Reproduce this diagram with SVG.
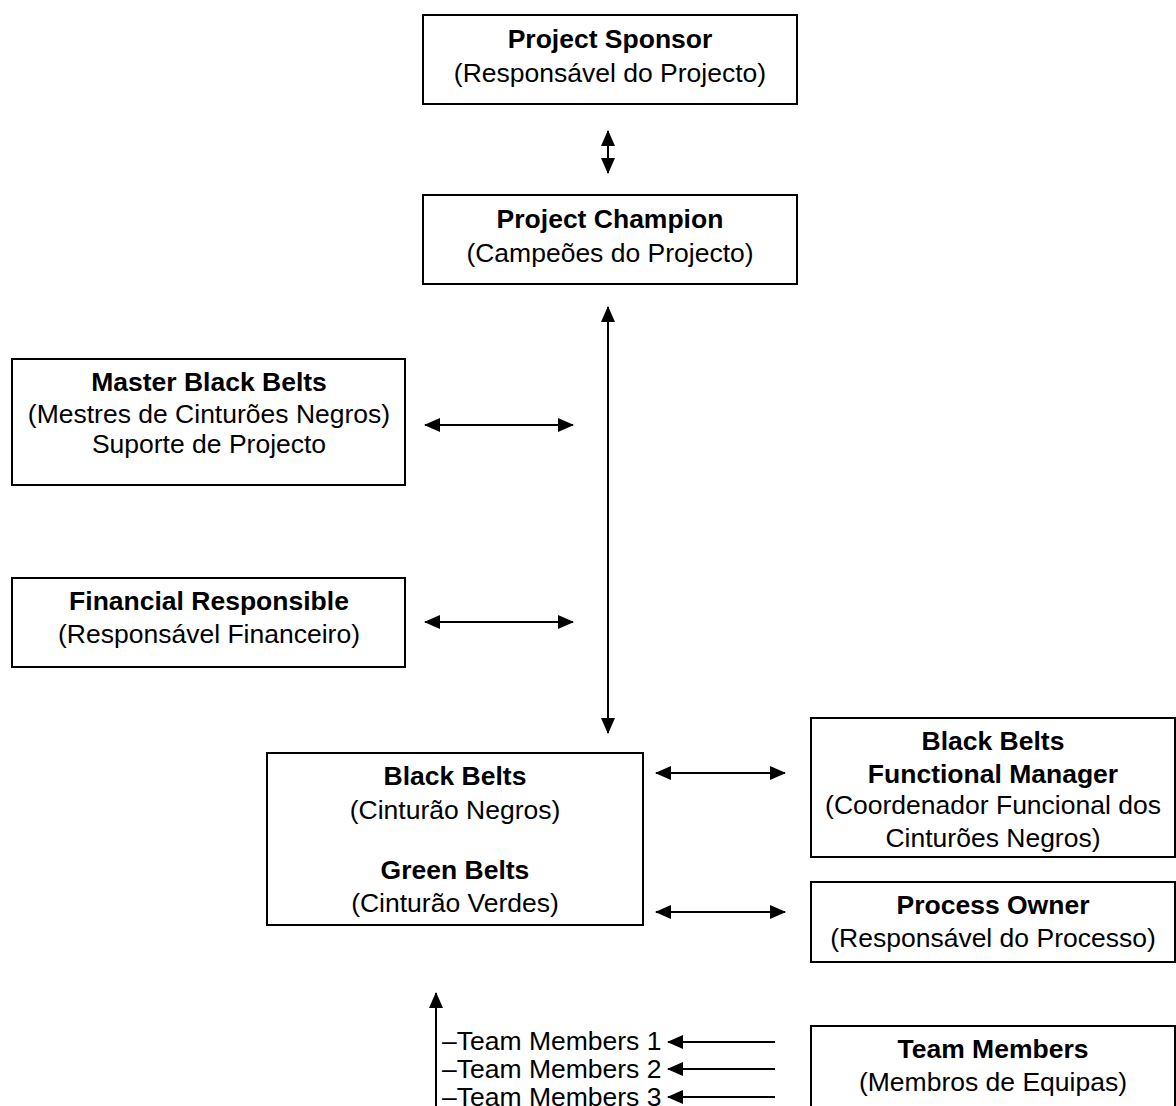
<svg xmlns="http://www.w3.org/2000/svg" width="1176" height="1106" viewBox="0 0 1176 1106">
  <style>
    .box { fill: #ffffff; stroke: #000000; stroke-width: 2; }
    .t { font-family: "Liberation Sans", Arial, sans-serif; font-size: 26.5px; fill: #000000; text-anchor: middle; }
    .b { font-weight: bold; }
    .list { text-anchor: start; }
    .link { stroke: #000000; stroke-width: 2; fill: none; }
  </style>
  <defs>
    <marker id="head" markerUnits="userSpaceOnUse" markerWidth="16" markerHeight="14" refX="15" refY="7" orient="auto-start-reverse">
      <path d="M0,0 L16,7 L0,14 Z" fill="#000000"/>
    </marker>
  </defs>
  <rect width="1176" height="1106" fill="#ffffff"/>

  <g id="connectors">
    <line class="link" x1="608" y1="131" x2="608" y2="173" marker-start="url(#head)" marker-end="url(#head)"/>
    <line class="link" x1="608" y1="307" x2="608" y2="733" marker-start="url(#head)" marker-end="url(#head)"/>
    <line class="link" x1="425" y1="425" x2="573" y2="425" marker-start="url(#head)" marker-end="url(#head)"/>
    <line class="link" x1="425" y1="622" x2="573" y2="622" marker-start="url(#head)" marker-end="url(#head)"/>
    <line class="link" x1="656" y1="773" x2="785" y2="773" marker-start="url(#head)" marker-end="url(#head)"/>
    <line class="link" x1="656" y1="912" x2="785" y2="912" marker-start="url(#head)" marker-end="url(#head)"/>
    <line class="link" x1="436" y1="1106" x2="436" y2="993" marker-end="url(#head)"/>
    <line class="link" x1="775" y1="1042" x2="668" y2="1042" marker-end="url(#head)"/>
    <line class="link" x1="775" y1="1069" x2="668" y2="1069" marker-end="url(#head)"/>
    <line class="link" x1="775" y1="1097" x2="668" y2="1097" marker-end="url(#head)"/>
  </g>

  <g id="project-sponsor">
    <rect class="box" x="423" y="15" width="374" height="89"/>
    <text class="t b" x="610" y="48">Project Sponsor</text>
    <text class="t" x="610" y="82">(Responsável do Projecto)</text>
  </g>

  <g id="project-champion">
    <rect class="box" x="423" y="195" width="374" height="89"/>
    <text class="t b" x="610" y="228">Project Champion</text>
    <text class="t" x="610" y="262">(Campeões do Projecto)</text>
  </g>

  <g id="master-black-belts">
    <rect class="box" x="12" y="359" width="393" height="126"/>
    <text class="t b" x="209" y="391">Master Black Belts</text>
    <text class="t" x="209" y="423">(Mestres de Cinturões Negros)</text>
    <text class="t" x="209" y="453">Suporte de Projecto</text>
  </g>

  <g id="financial-responsible">
    <rect class="box" x="12" y="578" width="393" height="89"/>
    <text class="t b" x="209" y="610">Financial Responsible</text>
    <text class="t" x="209" y="643">(Responsável Financeiro)</text>
  </g>

  <g id="black-green-belts">
    <rect class="box" x="267" y="753" width="376" height="172"/>
    <text class="t b" x="455" y="785">Black Belts</text>
    <text class="t" x="455" y="819">(Cinturão Negros)</text>
    <text class="t b" x="455" y="879">Green Belts</text>
    <text class="t" x="455" y="912">(Cinturão Verdes)</text>
  </g>

  <g id="functional-manager">
    <rect class="box" x="811" y="718" width="364" height="139"/>
    <text class="t b" x="993" y="750">Black Belts</text>
    <text class="t b" x="993" y="783">Functional Manager</text>
    <text class="t" x="993" y="814">(Coordenador Funcional dos</text>
    <text class="t" x="993" y="847">Cinturões Negros)</text>
  </g>

  <g id="process-owner">
    <rect class="box" x="811" y="882" width="364" height="80"/>
    <text class="t b" x="993" y="914">Process Owner</text>
    <text class="t" x="993" y="947">(Responsável do Processo)</text>
  </g>

  <g id="team-members">
    <rect class="box" x="811" y="1026" width="364" height="90"/>
    <text class="t b" x="993" y="1058">Team Members</text>
    <text class="t" x="993" y="1091">(Membros de Equipas)</text>
  </g>

  <g id="team-member-list">
    <text class="t list" x="442" y="1050">–Team Members 1</text>
    <text class="t list" x="442" y="1078">–Team Members 2</text>
    <text class="t list" x="442" y="1106">–Team Members 3</text>
  </g>
</svg>
